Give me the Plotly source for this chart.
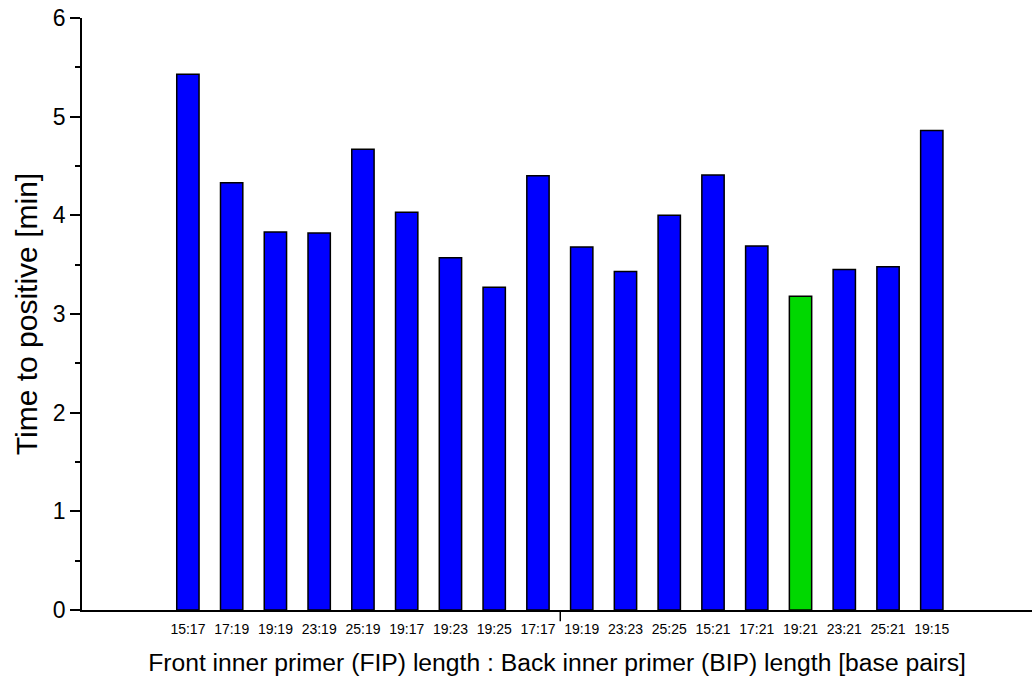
import plotly.graph_objects as go

# Primer length combinations (FIP:BIP) and time to positive in minutes
labels = ["15:17", "17:19", "19:19", "23:19", "25:19", "19:17", "19:23", "19:25", "17:17",
          "19:19", "23:23", "25:25", "15:21", "17:21", "19:21", "23:21", "25:21", "19:15"]
times = [5.43, 4.33, 3.83, 3.82, 4.67, 4.03, 3.57, 3.27, 4.40,
         3.68, 3.43, 4.00, 4.41, 3.69, 3.18, 3.45, 3.48, 4.86]
highlight_index = 14

positions = list(range(len(labels)))
colors = ["#00d800" if i == highlight_index else "#0000ff" for i in positions]

fig = go.Figure(
    go.Bar(
        x=positions,
        y=times,
        width=0.51,
        marker=dict(color=colors, line=dict(color="black", width=1.5)),
    )
)

font_family = "Liberation Sans, Arial, sans-serif"

fig.update_layout(
    width=1032,
    height=682,
    margin=dict(l=82, r=0, t=18, b=72),
    plot_bgcolor="white",
    paper_bgcolor="white",
    showlegend=False,
    font=dict(family=font_family, color="black"),
    xaxis=dict(
        range=[-2.42, 19.29],
        tickvals=positions,
        ticktext=labels,
        ticks="",
        ticklabelstandoff=5,
        showline=True,
        linecolor="black",
        linewidth=1.5,
        showgrid=False,
        zeroline=False,
        tickfont=dict(size=14),
        title=dict(
            text="Front inner primer (FIP) length : Back inner primer (BIP) length [base pairs]",
            font=dict(size=24.7),
            standoff=18,
        ),
    ),
    yaxis=dict(
        range=[0, 6],
        tickvals=[0, 1, 2, 3, 4, 5, 6],
        ticks="outside",
        ticklen=10,
        tickwidth=1.5,
        tickcolor="black",
        showline=True,
        linecolor="black",
        linewidth=1.5,
        showgrid=False,
        zeroline=False,
        tickfont=dict(size=23),
        minor=dict(tickvals=[0.5, 1.5, 2.5, 3.5, 4.5, 5.5], ticks="outside",
                   ticklen=5, tickwidth=1.5, tickcolor="black"),
        title=dict(text="Time to positive [min]", font=dict(size=30), standoff=6),
    ),
)

# Single major tick mark on the category axis
fig.add_shape(type="line", xref="x", yref="paper", x0=8.51, x1=8.51,
              y0=0, y1=-0.019, line=dict(color="black", width=1.5))

fig.write_html("out.html")
